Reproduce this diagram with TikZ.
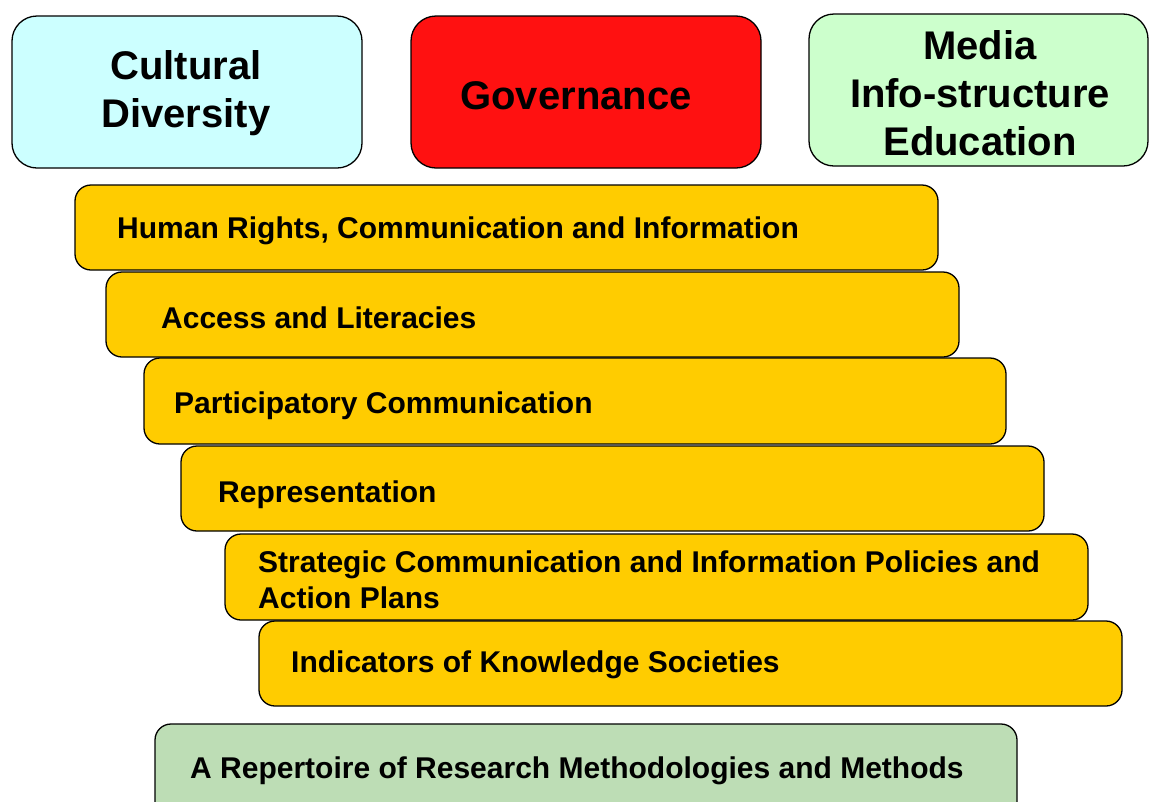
\documentclass[tikz,border=0pt]{standalone}
\usepackage{fontspec}
\setmainfont{Liberation Sans}
\definecolor{cyanbox}{HTML}{CCFFFF}
\definecolor{redbox}{HTML}{FF1111}
\definecolor{greenbox}{HTML}{CCFFCC}
\definecolor{yellowbox}{HTML}{FFCC00}
\definecolor{methbox}{HTML}{BDDDB5}
\tikzset{
  topbox/.style={draw=black, line width=1.3pt, rounded corners=25pt},
  barbox/.style={draw=black, line width=1.3pt, rounded corners=16pt, fill=yellowbox},
  toptext/.style={align=center, font=\fontsize{40}{48}\selectfont\bfseries, inner sep=0pt},
  bartext/.style={anchor=west, align=left, font=\fontsize{30}{36}\selectfont\bfseries, inner sep=0pt}
}
\begin{document}
\begin{tikzpicture}[x=1pt,y=-1pt]
\useasboundingbox (0,0) rectangle (1150,801);
% top boxes
\draw[topbox, fill=cyanbox] (12,16) rectangle (362,168);
\node[toptext] (cd) at (186,93) {Cultural\\Diversity};
\draw[topbox, fill=redbox] (411,16) rectangle (761,168);
\node[toptext] (gov) at (576,96) {Governance};
\draw[topbox, fill=greenbox] (809,14) rectangle (1148,166);
\node[toptext] (media) at (980,93) {Media\\Info-structure\\Education};
% stacked bars
\draw[barbox] (75,185) rectangle (938,270);
\node[bartext] (b1) at (117,231) {Human Rights, Communication and Information};
\draw[barbox] (106,272) rectangle (959,357);
\node[bartext] (b2) at (161,318) {Access and Literacies};
\draw[barbox] (144,358) rectangle (1006,444);
\node[bartext] (b3) at (174,406) {Participatory Communication};
\draw[barbox] (181,446) rectangle (1044,531);
\node[bartext] (b4) at (218,495) {Representation};
\draw[barbox] (225,534) rectangle (1088,620);
\node[bartext] (b5) at (258,580) {Strategic Communication and Information Policies and\\Action Plans};
\draw[barbox] (259,621) rectangle (1122,706);
\node[bartext] (b6) at (291,665) {Indicators of Knowledge Societies};
% bottom box
\draw[draw=black, line width=1.3pt, rounded corners=16pt, fill=methbox] (155,724) rectangle (1017,830);
\node[bartext] (meth) at (190,771) {A Repertoire of Research Methodologies and Methods};
\end{tikzpicture}
\end{document}
